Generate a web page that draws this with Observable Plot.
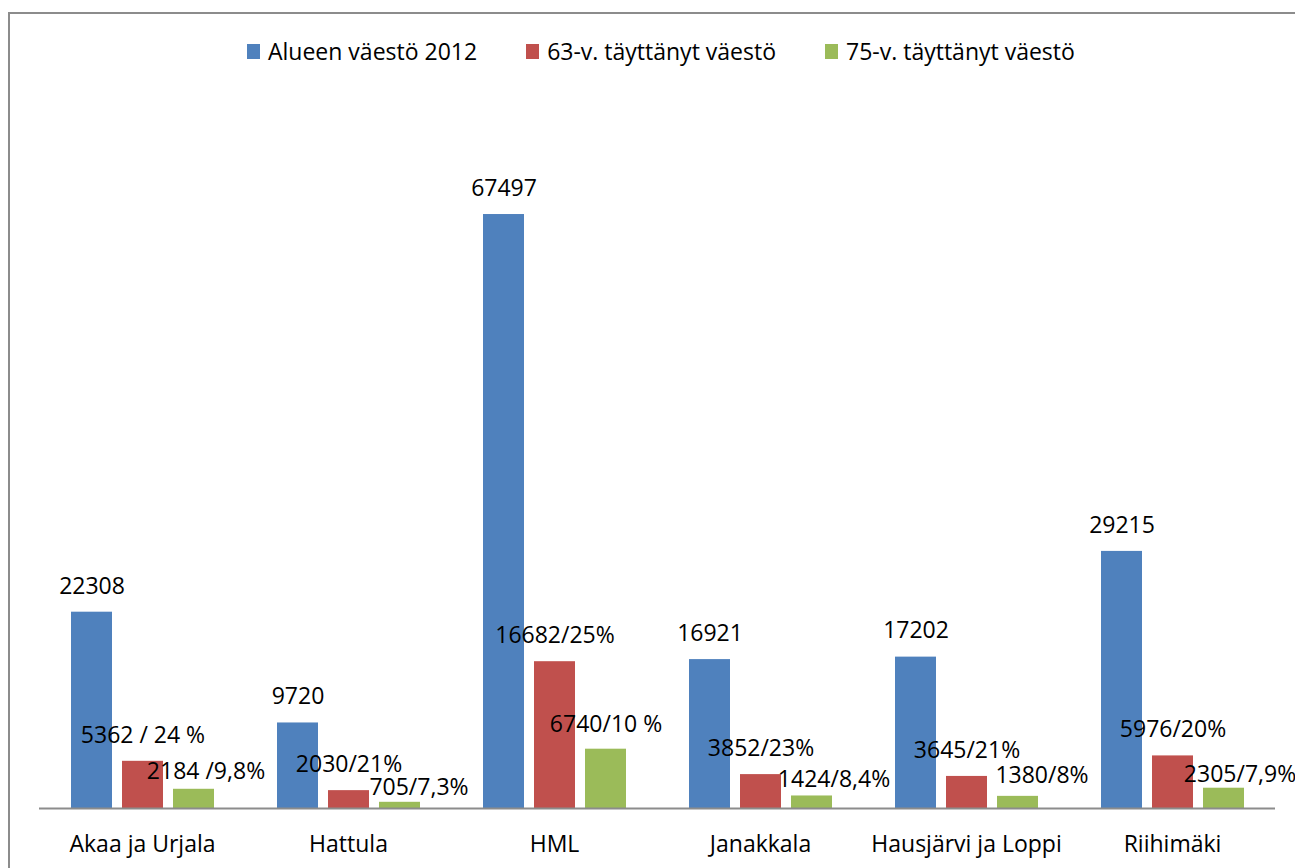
<!DOCTYPE html>
<html>
<head>
<meta charset="utf-8">
<script src="https://cdn.jsdelivr.net/npm/d3@7"></script>
<script src="https://cdn.jsdelivr.net/npm/@observablehq/plot@0.6"></script>
<style>
  html, body { margin: 0; padding: 0; background: #fff; }
  body { width: 1295px; height: 868px; overflow: hidden; position: relative; font-family: "Open Sans", sans-serif; }
  #frame { position: absolute; left: 8px; top: 12px; width: 1400px; height: 900px;
           border-left: 2px solid #8c8c8c; border-top: 2px solid #8c8c8c; box-sizing: border-box; }
  #chart { position: absolute; left: 0; top: 0; }
  #legend { position: absolute; left: 247px; top: 37px; display: flex; align-items: center;
            font-size: 23px; line-height: 28px; color: #000; }
  #legend .item { display: flex; align-items: center; margin-right: 49px; }
  #legend .sw { width: 13px; height: 15px; margin-right: 8px; }
</style>
</head>
<body>
<div id="frame"></div>
<div id="chart"></div>
<div id="legend"></div>
<script>
const categories = ["Akaa ja Urjala", "Hattula", "HML", "Janakkala", "Hausjärvi ja Loppi", "Riihimäki"];
const seriesNames = ["Alueen väestö 2012", "63-v. täyttänyt väestö", "75-v. täyttänyt väestö"];
const population2012 = [22308, 9720, 67497, 16921, 17202, 29215];
const aged63 = [5362, 2030, 16682, 3852, 3645, 5976];
const aged63Labels = ["5362 / 24 %", "2030/21%", "16682/25%", "3852/23%", "3645/21%", "5976/20%"];
const aged75 = [2184, 705, 6740, 1424, 1380, 2305];
const aged75Labels = ["2184 /9,8%", "705/7,3%", "6740/10 %", "1424/8,4%", "1380/8%", "2305/7,9%"];
const seriesColors = ["#4F81BD", "#C0504D", "#9BBB59"];
// manual label nudges (dx, dy in px) for the 75-v. labels, as placed in the original
const aged75LabelNudge = [[12, -18], [19, -15], [0, -25], [22, -16], [24, -21], [16, -14]];

const rows = [];
categories.forEach((c, i) => {
  rows.push({category: c, series: seriesNames[0], value: population2012[i], label: String(population2012[i])});
  rows.push({category: c, series: seriesNames[1], value: aged63[i], label: aged63Labels[i]});
  rows.push({category: c, series: seriesNames[2], value: aged75[i], label: aged75Labels[i]});
});
const mainLabels = rows.filter(d => d.series !== seriesNames[2]);
const greenRows = rows.filter(d => d.series === seriesNames[2]);

const font = "'Open Sans', sans-serif";

const chart = Plot.plot({
  width: 1295,
  height: 868,
  marginTop: 104,
  marginBottom: 60,
  marginLeft: 37,
  marginRight: 19,
  style: {fontFamily: font, fontSize: "23px", color: "#000", background: "transparent", overflow: "visible"},
  fx: {domain: categories, padding: 0, label: null},
  x: {domain: seriesNames, paddingInner: 0.2, paddingOuter: 0.6, axis: null},
  y: {domain: [0, 80000], axis: null},
  color: {domain: seriesNames, range: seriesColors},
  marks: [
    Plot.barY(rows, {fx: "category", x: "series", y: "value", fill: "series"}),
    Plot.ruleY([0], {stroke: "#8c8c8c", strokeWidth: 2}),
    Plot.text(mainLabels, {fx: "category", x: "series", y: "value", text: "label", dy: -26, fill: "#000", fontSize: 23}),
    ...greenRows.map((d, i) => Plot.text([d], {fx: "category", x: "series", y: "value", text: "label",
      dx: aged75LabelNudge[i][0], dy: aged75LabelNudge[i][1], fill: "#000", fontSize: 23})),
    Plot.axisFx({anchor: "bottom", tickSize: 0, tickPadding: 27, fontSize: 23, label: null, fill: "#000"})
  ]
});
document.getElementById("chart").appendChild(chart);

const legend = document.getElementById("legend");
seriesNames.forEach((s, i) => {
  const item = document.createElement("div");
  item.className = "item";
  const sw = document.createElement("span");
  sw.className = "sw";
  sw.style.background = seriesColors[i];
  const t = document.createElement("span");
  t.textContent = s;
  item.appendChild(sw);
  item.appendChild(t);
  legend.appendChild(item);
});
</script>
</body>
</html>
